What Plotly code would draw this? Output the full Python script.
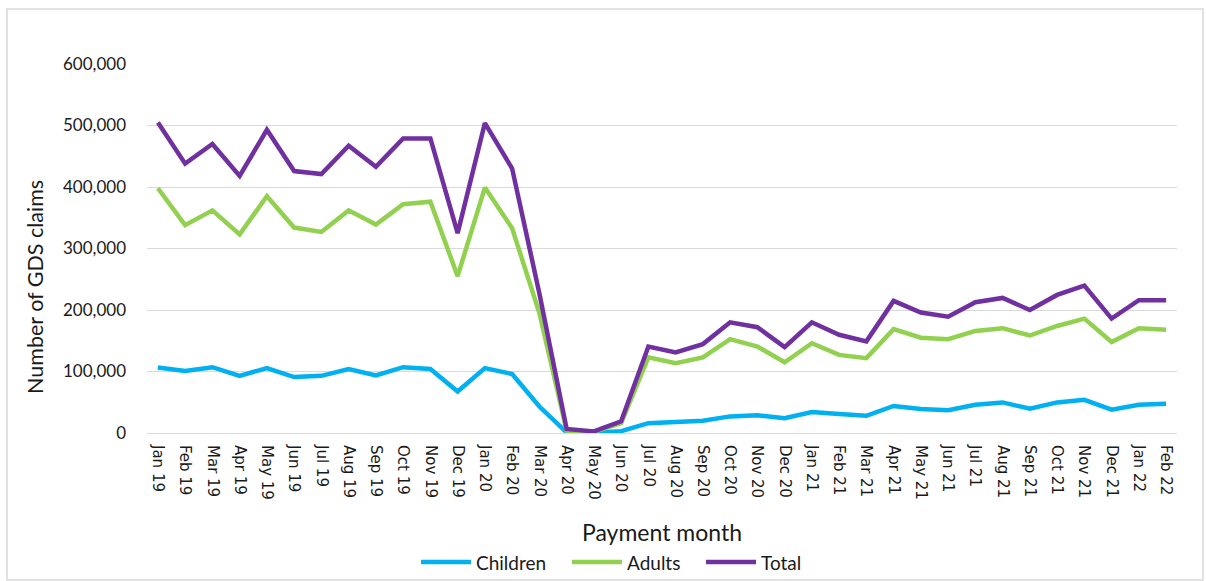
import plotly.graph_objects as go

months = [
    "Jan 19", "Feb 19", "Mar 19", "Apr 19", "May 19", "Jun 19", "Jul 19", "Aug 19",
    "Sep 19", "Oct 19", "Nov 19", "Dec 19", "Jan 20", "Feb 20", "Mar 20", "Apr 20",
    "May 20", "Jun 20", "Jul 20", "Aug 20", "Sep 20", "Oct 20", "Nov 20", "Dec 20",
    "Jan 21", "Feb 21", "Mar 21", "Apr 21", "May 21", "Jun 21", "Jul 21", "Aug 21",
    "Sep 21", "Oct 21", "Nov 21", "Dec 21", "Jan 22", "Feb 22",
]

children = [
    106500, 101000, 107000, 93000, 105500, 91000, 93000, 104000,
    93500, 107000, 104000, 67500, 105500, 96000, 43000, 1000,
    500, 3000, 16000, 18000, 20000, 27000, 29000, 24000,
    34000, 31000, 28000, 44000, 39000, 37000, 46000, 49700,
    39400, 49700, 54000, 38000, 46000, 47600,
]

adults = [
    398000, 338000, 362000, 323000, 385000, 334000, 327000, 362000,
    339000, 372000, 376000, 255000, 399000, 333000, 195000, 4000,
    2000, 16000, 123000, 113600, 123000, 152600, 140600, 115000,
    146000, 127000, 121700, 168800, 155000, 152600, 166000, 170400,
    158500, 174000, 186000, 148000, 170400, 168000,
]

total = [
    505000, 438000, 470000, 418000, 493000, 426000, 421000, 467000,
    433000, 479000, 479000, 325000, 504000, 430000, 227000, 6500,
    2600, 19000, 140600, 131000, 144500, 180000, 172000, 139600,
    180000, 159700, 149000, 214800, 196000, 189000, 212600, 219600,
    200000, 224500, 239700, 186000, 216000, 216000,
]

y_ticks = [0, 100000, 200000, 300000, 400000, 500000, 600000]
y_tick_text = ["0", "100,000", "200,000", "300,000", "400,000", "500,000", "600,000"]

series = [
    ("Children", children, "#00b0f0"),
    ("Adults", adults, "#92d050"),
    ("Total", total, "#7030a0"),
]

label_font = "Lato, 'Open Sans', sans-serif"
ink = "#1a1a1a"

# plot area in pixels: left 147, right 1177, top 64, bottom 433
PL, PR, PT, PB = 147, 1177, 64, 433
def px_x(v):
    return (v - PL) / (PR - PL)
def px_y(v):
    return (PB - v) / (PB - PT)

fig = go.Figure()
for name, values, color in series:
    fig.add_trace(go.Scatter(
        x=months, y=values, name=name, mode="lines",
        line=dict(color=color, width=4.5, shape="linear"),
        showlegend=False,
    ))

fig.update_layout(
    width=1206, height=581,
    margin=dict(l=PL, r=1206 - PR, t=PT, b=581 - PB, autoexpand=False),
    paper_bgcolor="white", plot_bgcolor="white",
    showlegend=False,
    xaxis=dict(
        type="category", range=[-0.4, len(months) - 0.6], automargin=False,
        tickangle=90, ticks="", showgrid=False, showline=False, zeroline=False,
        ticklabelstandoff=11,
        tickfont=dict(family="DejaVu Sans", size=15, color=ink),
    ),
    yaxis=dict(
        range=[0, 600000], tickvals=y_ticks, ticktext=y_tick_text, automargin=False,
        showgrid=True, gridcolor="#d9d9d9", gridwidth=1.3,
        zeroline=True, zerolinecolor="#d9d9d9", zerolinewidth=1.3,
        showline=False, ticks="", ticklabelstandoff=20,
        tickfont=dict(family=label_font, size=17, color=ink),
    ),
)

# axis titles
fig.add_annotation(
    text="Payment month", xref="paper", yref="paper",
    x=px_x(662), y=px_y(532), xanchor="center", yanchor="middle",
    showarrow=False, font=dict(family=label_font, size=23, color=ink),
)
fig.add_annotation(
    text="Number of GDS claims", xref="paper", yref="paper",
    x=px_x(35), y=px_y(287), xanchor="center", yanchor="middle", textangle=-90,
    showarrow=False, font=dict(family=label_font, size=21.5, color=ink),
)

# legend: line sample followed by the series name
legend_y = px_y(562)
legend_starts = [421, 572, 706]
for (name, _, color), x0 in zip(series, legend_starts):
    fig.add_shape(
        type="line", xref="paper", yref="paper",
        x0=px_x(x0), x1=px_x(x0 + 50), y0=legend_y, y1=legend_y,
        line=dict(color=color, width=4.5),
    )
    fig.add_annotation(
        text=name, xref="paper", yref="paper",
        x=px_x(x0 + 53), y=legend_y, xanchor="left", yanchor="middle",
        showarrow=False, font=dict(family=label_font, size=19, color=ink),
    )

# light frame around the whole chart
fig.add_shape(
    type="rect", xref="paper", yref="paper",
    x0=px_x(7), x1=px_x(1203), y0=px_y(580), y1=px_y(9),
    line=dict(color="#d9d9d9", width=1.5), fillcolor="rgba(0,0,0,0)", layer="below",
)

fig.write_html("out.html")
